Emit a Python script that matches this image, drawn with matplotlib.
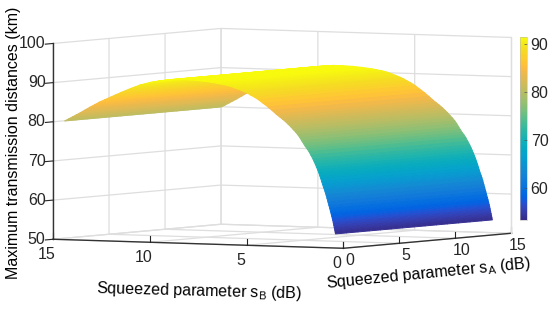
import numpy as np
import matplotlib
matplotlib.use("Agg")
import matplotlib.pyplot as plt
from matplotlib.colors import LinearSegmentedColormap, Normalize
from matplotlib.cm import ScalarMappable
from mpl_toolkits.mplot3d import proj3d

plt.rcParams['font.family'] = ['Liberation Sans', 'DejaVu Sans']
plt.rcParams['mathtext.fontset'] = 'custom'
plt.rcParams['mathtext.rm'] = 'Liberation Sans'
plt.rcParams['mathtext.default'] = 'regular'

# --- data ---
s_A = [0, 1, 2, 3, 4, 5, 6, 7, 8, 9, 10, 11, 12, 13, 14]
s_B = [0.41, 0.43, 0.45, 0.475, 0.50, 0.525, 0.55, 0.575, 0.60, 0.635, 0.67, 0.71, 0.75, 0.80,
       0.85, 0.90, 0.95, 0.99, 1.03, 1.075, 1.12, 1.17, 1.22, 1.275, 1.33, 1.39, 1.45, 1.515,
       1.58, 1.68, 1.78, 1.875, 1.97, 2.06, 2.15, 2.25, 2.35, 2.47, 2.59, 2.72, 2.85, 3.00,
       3.15, 3.31, 3.47, 3.68, 3.90, 4.15, 4.40, 4.60, 4.80, 4.98, 5.17, 5.38, 5.60, 5.85,
       6.10, 6.35, 6.60, 7.10, 7.60, 8.10, 8.60, 9.10, 9.35, 9.60, 10.0, 10.25, 10.5, 10.75,
       11.0, 11.25, 11.5, 11.78, 12.05, 12.33, 12.6, 12.85, 13.1, 13.35, 13.6, 13.8, 14.0,
       14.2, 14.4]
distance = [53.6, 54.1, 54.6, 55.2, 55.8, 56.4, 57.0, 57.5, 58.0, 58.7, 59.3, 60.1, 60.8, 61.7,
            62.6, 63.5, 64.3, 64.9, 65.4, 66.1, 66.8, 67.6, 68.3, 69.1, 69.8, 70.5, 71.2, 71.9,
            72.6, 73.5, 74.4, 75.1, 75.7, 76.4, 77.1, 77.9, 78.6, 79.3, 79.9, 80.6, 81.2, 81.9,
            82.5, 83.1, 83.7, 84.6, 85.5, 86.4, 87.3, 87.9, 88.4, 88.9, 89.3, 89.7, 90.1, 90.5,
            90.8, 91.0, 91.2, 91.5, 91.7, 91.8, 91.8, 91.6, 91.4, 91.2, 90.8, 90.45, 90.1, 89.6,
            89.1, 88.55, 88.0, 87.35, 86.7, 86.05, 85.4, 84.7, 84.0, 83.25, 82.5, 81.95, 81.4,
            80.85, 80.3]
ticks_xy = [0, 5, 10, 15]
ticks_z = [50, 60, 70, 80, 90, 100]
ticks_cbar = [60, 70, 80, 90]
clim = (53.3, 91.5)

parula = LinearSegmentedColormap.from_list('parula', [
    (0.2081,0.1663,0.5292),(0.2116,0.1898,0.5777),(0.2123,0.2138,0.6270),(0.2081,0.2386,0.6771),
    (0.1959,0.2645,0.7279),(0.1707,0.2919,0.7792),(0.1253,0.3242,0.8303),(0.0591,0.3598,0.8683),
    (0.0117,0.3875,0.8820),(0.0060,0.4086,0.8828),(0.0165,0.4266,0.8786),(0.0329,0.4430,0.8720),
    (0.0498,0.4586,0.8641),(0.0629,0.4737,0.8554),(0.0723,0.4887,0.8467),(0.0779,0.5040,0.8384),
    (0.0793,0.5200,0.8312),(0.0749,0.5375,0.8263),(0.0641,0.5570,0.8240),(0.0488,0.5772,0.8228),
    (0.0343,0.5966,0.8199),(0.0265,0.6137,0.8135),(0.0239,0.6287,0.8038),(0.0231,0.6418,0.7913),
    (0.0228,0.6535,0.7768),(0.0267,0.6642,0.7607),(0.0384,0.6743,0.7436),(0.0590,0.6838,0.7254),
    (0.0843,0.6928,0.7062),(0.1133,0.7015,0.6859),(0.1453,0.7098,0.6646),(0.1801,0.7177,0.6424),
    (0.2178,0.7250,0.6193),(0.2586,0.7317,0.5954),(0.3022,0.7376,0.5712),(0.3482,0.7424,0.5473),
    (0.3953,0.7459,0.5244),(0.4420,0.7481,0.5033),(0.4871,0.7491,0.4840),(0.5300,0.7491,0.4661),
    (0.5709,0.7485,0.4494),(0.6099,0.7473,0.4337),(0.6473,0.7456,0.4188),(0.6834,0.7435,0.4044),
    (0.7184,0.7411,0.3905),(0.7525,0.7384,0.3768),(0.7858,0.7356,0.3633),(0.8185,0.7327,0.3498),
    (0.8507,0.7299,0.3360),(0.8824,0.7274,0.3217),(0.9139,0.7258,0.3063),(0.9450,0.7261,0.2886),
    (0.9739,0.7314,0.2666),(0.9938,0.7455,0.2403),(0.9990,0.7653,0.2164),(0.9955,0.7861,0.1967),
    (0.9880,0.8066,0.1794),(0.9789,0.8271,0.1633),(0.9697,0.8481,0.1475),(0.9626,0.8705,0.1309),
    (0.9589,0.8949,0.1132),(0.9598,0.9218,0.0948),(0.9661,0.9514,0.0755),(0.9763,0.9831,0.0538)],
    N=512)

W, H = 550, 314
AX_COL = '#333333'
GRID_COL = '#dedede'
FS = 11.5

fig = plt.figure(figsize=(W/100, H/100), dpi=100)
ax = fig.add_axes([0.1, 0.1, 0.8, 0.8*W/H], projection='3d', proj_type='ortho')
ax.view_init(elev=3.02, azim=-149.5)
ax.set_box_aspect((331, 337, 196))
ax.patch.set_visible(False)

norm = Normalize(*clim)
X, Y = np.meshgrid(s_A, s_B)
Z = np.tile(np.array(distance)[:, None], (1, len(s_A)))
face = parula(norm(0.5*(Z[:-1, :-1] + Z[1:, 1:])))
ax.plot_surface(X, Y, Z, facecolors=face, shade=False, linewidth=0.7, antialiased=True,
                rcount=len(s_B), ccount=len(s_A))

ax.set_xlim(0, 15); ax.set_ylim(0, 15); ax.set_zlim(50, 100)
ax.set_xticks(ticks_xy); ax.set_yticks(ticks_xy); ax.set_zticks(ticks_z)
ax.tick_params(labelsize=FS, colors='#262626')
ax.tick_params(axis='x', pad=-4)
ax.tick_params(axis='y', pad=-1)
ax.tick_params(axis='z', pad=-5)
for t in ax.zaxis.get_major_ticks():
    t.label1.set_va('center')
    t.label1.set_ha('right')

for a, tick_dir, tick_in in ((ax.xaxis, 2, 0.43), (ax.yaxis, 2, 0.43), (ax.zaxis, 0, 0.57)):
    a.set_pane_color((1, 1, 1, 0))
    a.pane.set_edgecolor((1, 1, 1, 0))
    a.line.set_color(AX_COL)
    a.line.set_linewidth(1.0)
    a._axinfo['grid'].update(color=GRID_COL, linewidth=0.9)
    a._axinfo['tick'].update(inward_factor=tick_in, outward_factor=0.0, color=AX_COL,
                             linewidth={True: 0.8, False: 0.5})
    a._get_tickdir = (lambda d: (lambda pos: d))(tick_dir)
ax.zaxis.set_ticks_position('upper')

# right-hand edge of the back wall
ax.plot([15, 15], [0, 0], [50, 100], color=GRID_COL, linewidth=0.9)

ax.set_xlabel(r'Squeezed parameter s$_{A}$ (dB)', fontsize=FS)
ax.set_ylabel(r'Squeezed parameter s$_{B}$ (dB)', fontsize=FS)
ax.set_zlabel('Maximum transmission distances (km)', fontsize=FS)

# place the 3-D box: left and right floor corners land where the reference has them
target_L = np.array([53.0, H - 239.5])
target_R = np.array([511.5, H - 233.0])

def corner_px():
    fig.canvas.draw()
    out = []
    for c in [(0, 15, 50), (15, 0, 50)]:
        x, y, _ = proj3d.proj_transform(*c, ax.get_proj())
        out.append(ax.transData.transform((x, y)))
    return out

for _ in range(2):
    pL, pR = corner_px()
    k = (target_R[0] - target_L[0]) / (pR[0] - pL[0])
    pos = ax.get_position()
    side = pos.width * W * k
    cx, cy = (pos.x0 + pos.width/2)*W, (pos.y0 + pos.height/2)*H
    mid_now = (pL + pR)/2
    mid_tgt = (target_L + target_R)/2
    newc = mid_tgt + (np.array([cx, cy]) - mid_now)*k
    ax.set_position([(newc[0]-side/2)/W, (newc[1]-side/2)/H, side/W, side/H])
fig.canvas.draw()

def pin_label(axis, x_px, y_px, rotation):
    """Fix an axis title at a pixel position (mplot3d would slide it along the box)."""
    axis.set_rotate_label(False)
    lab = axis.label
    lab.set_rotation(rotation)
    lab.set_position(ax.transData.inverted().transform((x_px, H - y_px)))
    lab.set_ha('center'); lab.set_va('center')
    lab.set_rotation_mode('anchor')
    lab.set_position = lambda xy: None
    lab.set_ha = lambda v: None
    lab.set_va = lambda v: None

pin_label(ax.xaxis, 428.5, 274, 5.6)
pin_label(ax.yaxis, 199, 291, -1.5)
pin_label(ax.zaxis, 14, 143, 90)

# colour bar
cax = fig.add_axes([520/W, 1-220/H, 6.5/W, (220-37)/H])
cb = fig.colorbar(ScalarMappable(norm=norm, cmap=parula), cax=cax, ticks=ticks_cbar)
cb.ax.tick_params(labelsize=FS, direction='in', length=2, width=0.5, color='#555555', pad=3, labelcolor='#262626')
cb.outline.set_edgecolor('#bbbbbb')
cb.outline.set_linewidth(0.4)

fig.savefig('out.png', dpi=100)
